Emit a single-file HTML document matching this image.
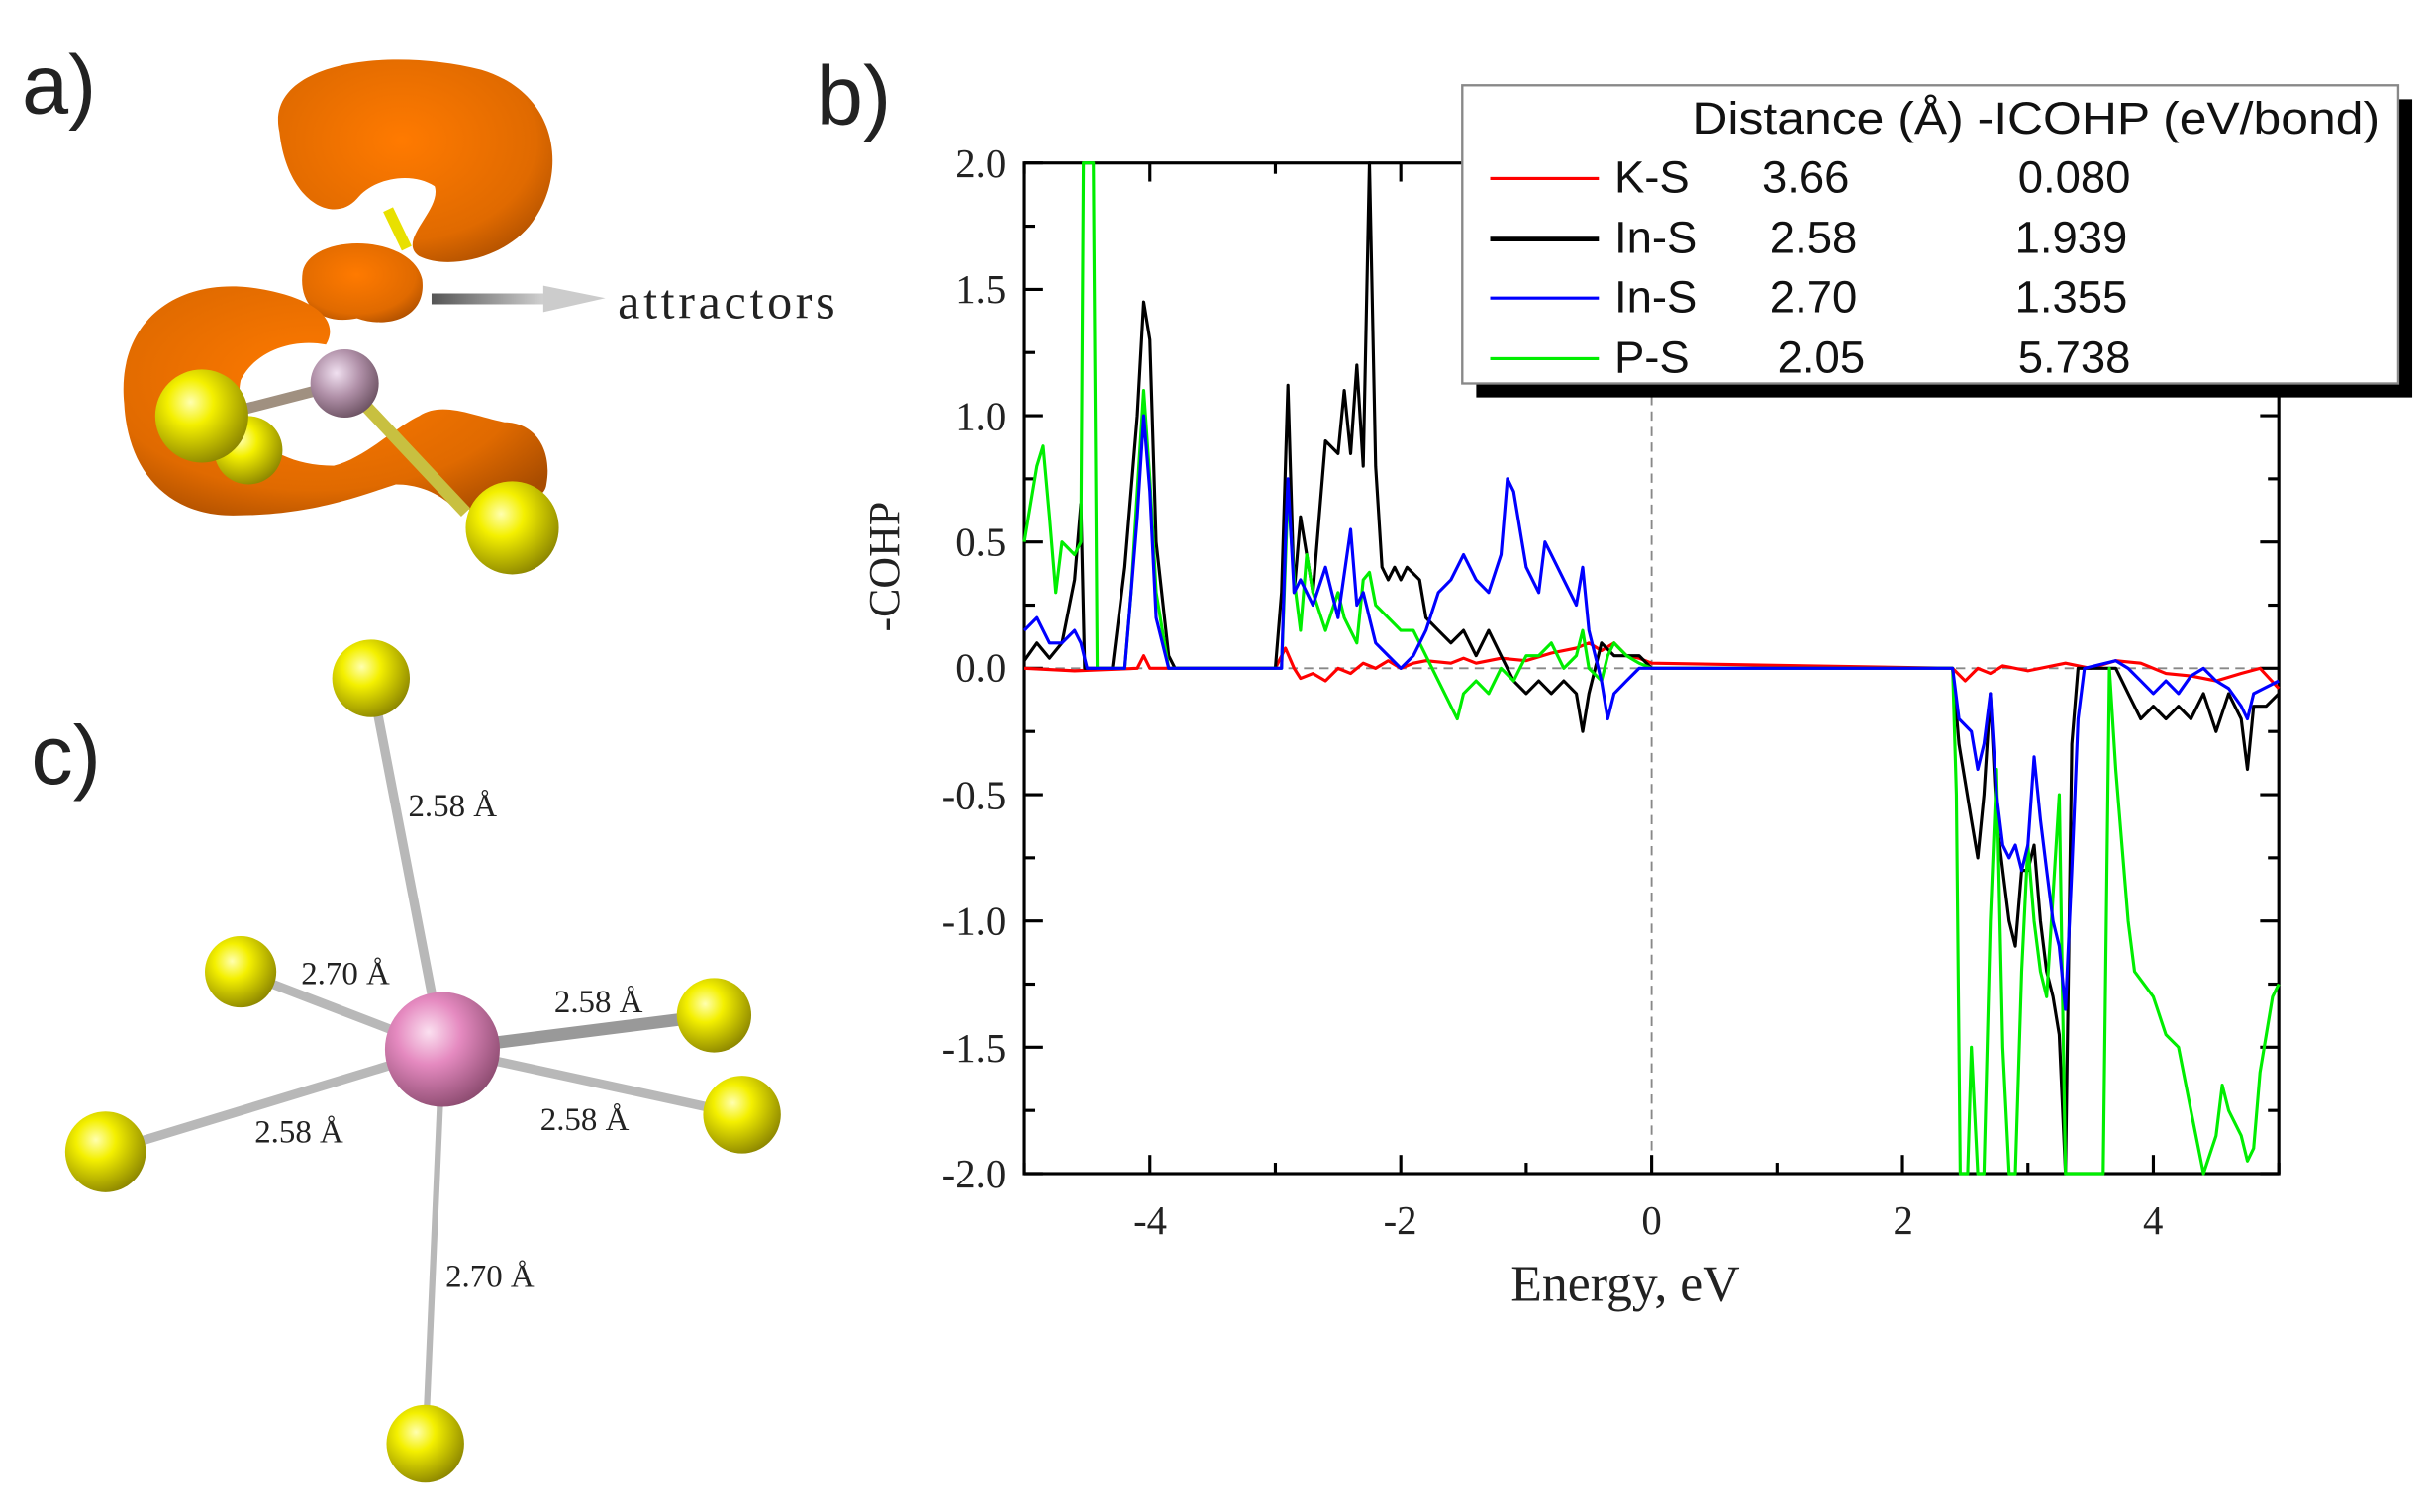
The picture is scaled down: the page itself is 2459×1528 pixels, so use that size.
<!DOCTYPE html>
<html><head><meta charset="utf-8"><style>
html,body{margin:0;padding:0;background:#fff;}
svg{display:block;}
</style></head><body>
<svg id="s" width="2459" height="1528" viewBox="0 0 1568 974" preserveAspectRatio="none" xmlns="http://www.w3.org/2000/svg">
<defs>
<radialGradient id="yel" cx="0.38" cy="0.35" r="0.7"><stop offset="0" stop-color="#ffffb0"/><stop offset="0.35" stop-color="#f4f000"/><stop offset="1" stop-color="#8a8400"/></radialGradient>
<radialGradient id="pink" cx="0.38" cy="0.35" r="0.7"><stop offset="0" stop-color="#fbe0f0"/><stop offset="0.4" stop-color="#e58ac0"/><stop offset="1" stop-color="#8a4a6e"/></radialGradient>
<radialGradient id="mauve" cx="0.38" cy="0.35" r="0.7"><stop offset="0" stop-color="#f0e0f0"/><stop offset="0.5" stop-color="#b090a8"/><stop offset="1" stop-color="#6a5060"/></radialGradient>
<radialGradient id="org" cx="0.45" cy="0.4" r="0.7"><stop offset="0" stop-color="#ff7a00"/><stop offset="0.7" stop-color="#e06a00"/><stop offset="1" stop-color="#a84c00"/></radialGradient>
<linearGradient id="arr" x1="0" x2="1"><stop offset="0" stop-color="#555"/><stop offset="1" stop-color="#ddd"/></linearGradient>
</defs>
<g font-family="Liberation Sans, sans-serif" font-size="54" fill="#222">
<text x="14" y="73">a)</text><text x="526" y="80">b)</text><text x="20" y="505">c)</text>
</g>
<!-- panel a -->
<path d="M180,85 C170,40 250,30 310,45 C360,60 365,110 345,140 C330,165 290,175 270,165 C255,155 285,135 280,120 C265,110 240,115 230,128 C215,145 185,130 180,85Z" fill="url(#org)"/>
<path d="M195,175 C200,150 265,150 272,180 C275,205 250,212 230,205 C205,210 192,195 195,175Z" fill="url(#org)"/>
<line x1="250" y1="135" x2="262" y2="160" stroke="#e8e000" stroke-width="7"/>
<path d="M80,260 C75,210 110,180 160,185 C200,190 220,205 210,222 C190,218 165,225 155,245 C150,270 170,300 215,300 C235,295 255,275 270,268 C285,258 305,268 325,272 C345,272 356,290 352,312 C350,330 300,325 295,330 C285,318 270,312 255,312 C230,320 200,332 150,332 C105,332 82,300 80,260Z" fill="url(#org)"/>
<line x1="222" y1="247" x2="300" y2="330" stroke="#c8c040" stroke-width="8"/>
<line x1="222" y1="247" x2="140" y2="268" stroke="#a09080" stroke-width="7"/>
<circle cx="160" cy="290" r="22" fill="url(#yel)"/>
<circle cx="130" cy="268" r="30" fill="url(#yel)"/>
<circle cx="222" cy="247" r="22" fill="url(#mauve)"/>
<circle cx="330" cy="340" r="30" fill="url(#yel)"/>
<rect x="278" y="189" width="80" height="7" fill="url(#arr)"/>
<path d="M350,184 L390,192 L350,201 Z" fill="#ccc"/>
<text x="398" y="205" font-family="Liberation Serif, serif" font-size="32" fill="#222" textLength="140">attractors</text>
<!-- panel c -->
<g stroke="#b8b8b8" stroke-width="6" stroke-linecap="round">
<line x1="285" y1="676" x2="239" y2="437"/>
<line x1="285" y1="676" x2="155" y2="626"/>
<line x1="285" y1="676" x2="68" y2="742"/>
<line x1="285" y1="676" x2="460" y2="654" stroke="#999" stroke-width="8"/>
<line x1="285" y1="676" x2="478" y2="718"/>
<line x1="285" y1="676" x2="274" y2="930" stroke-width="4"/>
</g>
<circle cx="239" cy="437" r="25" fill="url(#yel)"/>
<circle cx="155" cy="626" r="23" fill="url(#yel)"/>
<circle cx="68" cy="742" r="26" fill="url(#yel)"/>
<circle cx="460" cy="654" r="24" fill="url(#yel)"/>
<circle cx="478" cy="718" r="25" fill="url(#yel)"/>
<circle cx="274" cy="930" r="25" fill="url(#yel)"/>
<circle cx="285" cy="676" r="37" fill="url(#pink)"/>
<g font-family="Liberation Serif, serif" font-size="21" fill="#222">
<text x="263" y="526">2.58 Å</text>
<text x="194" y="634">2.70 Å</text>
<text x="357" y="652">2.58 Å</text>
<text x="164" y="736">2.58 Å</text>
<text x="348" y="728">2.58 Å</text>
<text x="287" y="829">2.70 Å</text>
</g>
<!-- panel b axes -->
<rect x="660" y="105" width="808" height="651" fill="none" stroke="#000" stroke-width="2"/>
<line x1="660" y1="430.5" x2="1468" y2="430.5" stroke="#888" stroke-width="1.2" stroke-dasharray="6,4"/>
<line x1="1064" y1="105" x2="1064" y2="756" stroke="#888" stroke-width="1.2" stroke-dasharray="6,4"/>
<g id="ticks" stroke="#000" stroke-width="2"></g>
<g id="series" fill="none" stroke-width="2" stroke-linejoin="round"></g>
<g font-family="Liberation Serif, serif" font-size="26" fill="#222" text-anchor="end">
<text x="648" y="114">2.0</text><text x="648" y="195">1.5</text><text x="648" y="277">1.0</text>
<text x="648" y="358">0.5</text><text x="648" y="439">0.0</text><text x="648" y="521">-0.5</text>
<text x="648" y="602">-1.0</text><text x="648" y="684">-1.5</text><text x="648" y="765">-2.0</text>
</g>
<g font-family="Liberation Serif, serif" font-size="26" fill="#222" text-anchor="middle">
<text x="741" y="795">-4</text><text x="902" y="795">-2</text><text x="1064" y="795">0</text>
<text x="1226" y="795">2</text><text x="1387" y="795">4</text>
</g>
<text x="1047" y="838" font-family="Liberation Serif, serif" font-size="33" fill="#222" text-anchor="middle">Energy, eV</text>
<text transform="translate(579,365) rotate(-90)" font-family="Liberation Serif, serif" font-size="28" fill="#222" text-anchor="middle">-COHP</text>
<!-- legend -->
<rect x="951" y="64" width="603" height="192" fill="#000"/>
<rect x="942" y="55" width="603" height="192" fill="#fff" stroke="#888" stroke-width="1.5"/>
<g font-family="Liberation Sans, sans-serif" font-size="29" fill="#111">
<text x="1090" y="86" textLength="443" lengthAdjust="spacingAndGlyphs">Distance (Å)  -ICOHP (eV/bond)</text>
<text x="1040" y="124">K-S</text><text x="1135" y="124">3.66</text><text x="1300" y="124">0.080</text>
<text x="1040" y="163">In-S</text><text x="1140" y="163">2.58</text><text x="1298" y="163">1.939</text>
<text x="1040" y="201">In-S</text><text x="1140" y="201">2.70</text><text x="1298" y="201">1.355</text>
<text x="1040" y="240">P-S</text><text x="1145" y="240">2.05</text><text x="1300" y="240">5.738</text>
</g>
<line x1="960" y1="115" x2="1030" y2="115" stroke="#f00" stroke-width="2"/>
<line x1="960" y1="154" x2="1030" y2="154" stroke="#000" stroke-width="3"/>
<line x1="960" y1="192" x2="1030" y2="192" stroke="#00f" stroke-width="2"/>
<line x1="960" y1="231" x2="1030" y2="231" stroke="#0e0" stroke-width="2"/>
</svg>
<script>
var NS="http://www.w3.org/2000/svg";
function X(e){return 1064+e*80.8;}
function Y(v){return 430.5-v*162.75;}
var tk=document.getElementById('ticks');
function ln(x1,y1,x2,y2){var l=document.createElementNS(NS,'line');l.setAttribute('x1',x1);l.setAttribute('y1',y1);l.setAttribute('x2',x2);l.setAttribute('y2',y2);tk.appendChild(l);}
for(var e=-5;e<=5;e++){var L=(e%2==0)?12:7;ln(X(e),756,X(e),756-L);ln(X(e),105,X(e),105+L);}
for(var i=0;i<=16;i++){var v=2-i*0.25;var L=(i%2==0)?12:7;ln(660,Y(v),660+L,Y(v));ln(1468,Y(v),1468-L,Y(v));}
var D={
"#f00":[-5,0,-4.6,-0.01,-4.1,0,-4.05,0.05,-4.0,0,-3,0,-2.92,0.08,-2.85,0,-2.8,-0.04,-2.7,-0.02,-2.6,-0.05,-2.5,0,-2.4,-0.02,-2.3,0.02,-2.2,0.0,-2.1,0.03,-2,0.0,-1.9,0.02,-1.8,0.03,-1.6,0.02,-1.5,0.04,-1.4,0.02,-1.2,0.04,-1.0,0.03,-0.8,0.06,-0.6,0.08,-0.5,0.1,-0.4,0.07,-0.3,0.1,-0.2,0.05,-0.1,0.04,0,0.02,2.4,0,2.5,-0.05,2.6,0,2.7,-0.02,2.8,0.01,3.0,-0.01,3.3,0.02,3.5,0,3.7,0.03,3.9,0.02,4.1,-0.02,4.3,-0.03,4.5,-0.05,4.7,-0.02,4.85,0.0,5,-0.08],
"#000":[-5,0.03,-4.9,0.1,-4.8,0.04,-4.7,0.1,-4.6,0.35,-4.55,0.65,-4.52,0,-4.3,0,-4.2,0.4,-4.1,1.0,-4.05,1.45,-4.0,1.3,-3.95,0.5,-3.85,0.05,-3.8,0,-3.0,0,-2.95,0.3,-2.9,1.12,-2.85,0.3,-2.8,0.6,-2.7,0.3,-2.6,0.9,-2.5,0.85,-2.45,1.1,-2.4,0.85,-2.35,1.2,-2.3,0.8,-2.25,2.0,-2.2,0.8,-2.15,0.4,-2.1,0.35,-2.05,0.4,-2.0,0.35,-1.95,0.4,-1.85,0.35,-1.8,0.2,-1.7,0.15,-1.6,0.1,-1.5,0.15,-1.4,0.05,-1.3,0.15,-1.2,0.05,-1.1,-0.05,-1.0,-0.1,-0.9,-0.05,-0.8,-0.1,-0.7,-0.05,-0.6,-0.1,-0.55,-0.25,-0.5,-0.1,-0.4,0.1,-0.3,0.05,-0.1,0.05,0,0,2.4,0,2.45,-0.3,2.55,-0.6,2.6,-0.75,2.65,-0.5,2.7,-0.1,2.75,-0.6,2.8,-0.8,2.85,-1.0,2.9,-1.1,2.95,-0.8,3.0,-0.8,3.05,-0.7,3.1,-1.0,3.15,-1.2,3.2,-1.3,3.25,-1.45,3.3,-2.0,3.32,-1.3,3.35,-0.3,3.4,0,3.7,0,3.75,-0.05,3.8,-0.1,3.9,-0.2,4.0,-0.15,4.1,-0.2,4.2,-0.15,4.3,-0.2,4.4,-0.1,4.5,-0.25,4.6,-0.1,4.7,-0.2,4.75,-0.4,4.8,-0.15,4.9,-0.15,5,-0.1],
"#0e0":[-5,0.5,-4.9,0.8,-4.85,0.88,-4.8,0.6,-4.75,0.3,-4.7,0.5,-4.6,0.45,-4.55,0.5,-4.53,2.0,-4.45,2.0,-4.42,0,-4.2,0,-4.15,0.3,-4.1,0.7,-4.05,1.1,-4.0,0.75,-3.95,0.3,-3.85,0,-2.95,0,-2.9,0.7,-2.85,0.35,-2.8,0.15,-2.75,0.45,-2.7,0.3,-2.6,0.15,-2.5,0.3,-2.45,0.2,-2.35,0.1,-2.3,0.35,-2.25,0.38,-2.2,0.25,-2.1,0.2,-2.0,0.15,-1.9,0.15,-1.8,0.05,-1.7,-0.05,-1.6,-0.15,-1.55,-0.2,-1.5,-0.1,-1.4,-0.05,-1.3,-0.1,-1.2,0,-1.1,-0.05,-1.0,0.05,-0.9,0.05,-0.8,0.1,-0.7,0,-0.6,0.05,-0.55,0.15,-0.5,0,-0.4,-0.05,-0.35,0.05,-0.3,0.1,-0.2,0.05,-0.1,0.02,0,0,2.4,0,2.43,-0.5,2.46,-2.0,2.52,-2.0,2.55,-1.5,2.6,-2.0,2.65,-2.0,2.7,-1.0,2.75,-0.4,2.8,-1.5,2.85,-2.0,2.9,-2.0,2.95,-1.2,3.0,-0.7,3.05,-1.0,3.1,-1.2,3.15,-1.3,3.2,-0.9,3.25,-0.5,3.3,-2.0,3.6,-2.0,3.65,0,3.7,-0.4,3.8,-1.0,3.85,-1.2,4.0,-1.3,4.1,-1.45,4.2,-1.5,4.3,-1.75,4.4,-2.0,4.5,-1.85,4.55,-1.65,4.6,-1.75,4.7,-1.85,4.75,-1.95,4.8,-1.9,4.85,-1.6,4.95,-1.3,5,-1.25],
"#00f":[-5,0.15,-4.9,0.2,-4.8,0.1,-4.7,0.1,-4.6,0.15,-4.55,0.1,-4.5,0,-4.2,0,-4.15,0.3,-4.1,0.6,-4.05,1.0,-4.0,0.7,-3.95,0.2,-3.85,0,-2.95,0,-2.92,0.5,-2.9,0.75,-2.85,0.3,-2.8,0.35,-2.7,0.25,-2.6,0.4,-2.5,0.2,-2.4,0.55,-2.35,0.25,-2.3,0.3,-2.2,0.1,-2.1,0.05,-2.0,0,-1.9,0.05,-1.8,0.15,-1.7,0.3,-1.6,0.35,-1.5,0.45,-1.4,0.35,-1.3,0.3,-1.2,0.45,-1.15,0.75,-1.1,0.7,-1.0,0.4,-0.9,0.3,-0.85,0.5,-0.8,0.45,-0.7,0.35,-0.6,0.25,-0.55,0.4,-0.5,0.15,-0.4,-0.05,-0.35,-0.2,-0.3,-0.1,-0.2,-0.05,-0.1,0,0,0,2.4,0,2.45,-0.2,2.55,-0.25,2.6,-0.4,2.65,-0.3,2.7,-0.1,2.75,-0.5,2.8,-0.7,2.85,-0.75,2.9,-0.7,2.95,-0.8,3.0,-0.7,3.05,-0.35,3.1,-0.6,3.15,-0.8,3.2,-1.0,3.25,-1.1,3.3,-1.35,3.35,-0.8,3.4,-0.2,3.45,0,3.7,0.03,3.8,0,3.9,-0.05,4.0,-0.1,4.1,-0.05,4.2,-0.1,4.3,-0.03,4.4,0,4.5,-0.05,4.6,-0.08,4.7,-0.15,4.75,-0.2,4.8,-0.1,5,-0.05]};
var g=document.getElementById('series');
["#f00","#000","#0e0","#00f"].forEach(function(c){var a=D[c],p=[];for(var i=0;i<a.length;i+=2){p.push(X(a[i]).toFixed(1)+","+Y(a[i+1]).toFixed(1));}
var pl=document.createElementNS(NS,'polyline');pl.setAttribute('points',p.join(' '));pl.setAttribute('stroke',c);g.appendChild(pl);});
</script>
</body></html>
